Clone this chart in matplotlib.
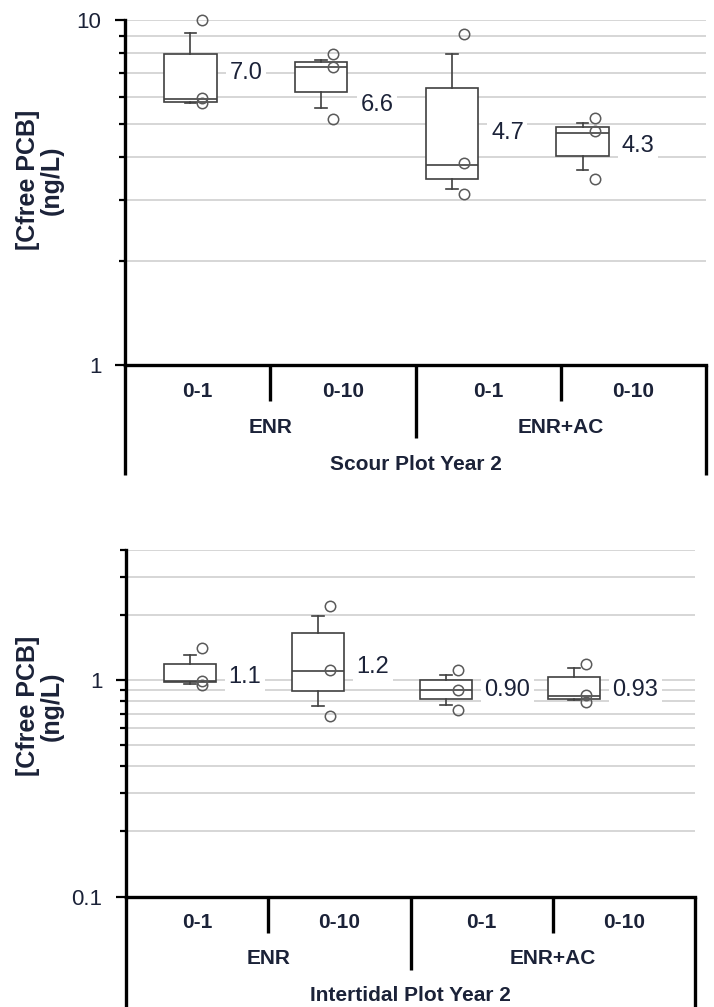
import numpy as np
import matplotlib.pyplot as plt
from matplotlib.ticker import FixedLocator, NullFormatter, FixedFormatter

plt.rcParams['font.family'] = ['Liberation Sans', 'DejaVu Sans']

depths = ["0-1", "0-10", "0-1", "0-10"]
treatments = ["ENR", "ENR+AC"]
ylabel = "[Cfree PCB]\n(ng/L)"

# Scour plot, year 2
scour_title = "Scour Plot Year 2"
scour_whislo = [5.76, 5.57, 3.24, 3.67]
scour_q1 = [5.80, 6.18, 3.46, 4.04]
scour_med = [5.90, 7.32, 3.81, 4.72]
scour_q3 = [7.95, 7.56, 6.36, 4.91]
scour_whishi = [9.19, 7.66, 7.95, 5.02]
scour_points = [[10.0, 5.95, 5.74], [7.96, 7.32, 5.17],
                [9.09, 3.84, 3.14], [5.19, 4.77, 3.45]]
scour_mean = [7.0, 6.6, 4.7, 4.3]
scour_labels = ["7.0", "6.6", "4.7", "4.3"]

# Intertidal plot, year 2
tidal_title = "Intertidal Plot Year 2"
tidal_whislo = [0.965, 0.758, 0.772, 0.808]
tidal_q1 = [0.979, 0.889, 0.82, 0.82]
tidal_med = [0.989, 1.10, 0.906, 0.85]
tidal_q3 = [1.195, 1.65, 1.0, 1.037]
tidal_whishi = [1.315, 1.98, 1.06, 1.14]
tidal_points = [[1.41, 0.99, 0.948], [2.20, 1.11, 0.681],
                [1.11, 0.906, 0.732], [1.195, 0.859, 0.791]]
tidal_mean = [1.1, 1.2, 0.90, 0.93]
tidal_labels = ["1.1", "1.2", "0.90", "0.93"]

box_pos = np.array([0.45, 1.35, 2.25, 3.15])
txt_col = '#1b2238'
box_col = '#404040'


def draw_panel(ax, whislo, q1, med, q3, whishi, points, means, labels,
               title, ylim, majors, minors, label_shift):
    stats = []
    for i in range(len(med)):
        stats.append(dict(whislo=whislo[i], q1=q1[i], med=med[i],
                          q3=q3[i], whishi=whishi[i], fliers=[]))
    lp = dict(color=box_col, lw=1.2)
    ax.bxp(stats, positions=box_pos, widths=0.36, showfliers=False,
           patch_artist=True, capwidths=0.08,
           boxprops=dict(facecolor='white', edgecolor=box_col, lw=1.2),
           medianprops=lp, whiskerprops=lp, capprops=lp, manage_ticks=False)
    for i, pts in enumerate(points):
        ax.plot([box_pos[i] + 0.083] * len(pts), pts, 'o', mfc='none',
                mec='#5a5a5a', ms=7.5, mew=1.1, zorder=4, clip_on=False)
    for i, lab in enumerate(labels):
        ax.annotate(lab, xy=(box_pos[i] + 0.27, means[i]),
                    xytext=(0, label_shift[i]), textcoords='offset points',
                    ha='left', va='center', fontsize=17, color=txt_col,
                    bbox=dict(fc='white', ec='none', pad=2.5), zorder=5)

    ax.set_yscale('log')
    ax.set_ylim(*ylim)
    ax.set_xlim(0, 4)
    ax.yaxis.set_major_locator(FixedLocator(majors))
    ax.yaxis.set_major_formatter(FixedFormatter([f"{m:g}" for m in majors]))
    ax.yaxis.set_minor_locator(FixedLocator(minors))
    ax.yaxis.set_minor_formatter(NullFormatter())
    ax.set_xticks([])
    ax.grid(which='both', axis='y', color='#d6d6d6', lw=1.4)
    ax.set_axisbelow(True)
    ax.tick_params(axis='y', which='major', length=7, width=1.6,
                   labelsize=16, labelcolor=txt_col, pad=10)
    ax.tick_params(axis='y', which='minor', length=4, width=1.6)
    for s in ['top', 'right']:
        ax.spines[s].set_visible(False)
    for s in ['left', 'bottom']:
        ax.spines[s].set_linewidth(2.4)

    # category lines and labels below the axis
    fig = ax.figure
    h_px = ax.get_position().height * fig.get_figheight() * fig.dpi
    tr = ax.get_xaxis_transform()
    drops = {0: 110, 1: 36, 2: 73, 3: 36, 4: 110}
    for x, d in drops.items():
        ax.plot([x, x], [0, -d / h_px], color='black', lw=2.4,
                transform=tr, clip_on=False, solid_capstyle='butt')
    for i, lab in enumerate(depths):
        ax.text(i + 0.5, -26 / h_px, lab, transform=tr, ha='center',
                va='center', fontsize=15, fontweight='bold', color=txt_col)
    for i, lab in enumerate(treatments):
        ax.text(2 * i + 1, -62 / h_px, lab, transform=tr, ha='center',
                va='center', fontsize=15, fontweight='bold', color=txt_col)
    ax.text(2, -99 / h_px, title, transform=tr, ha='center', va='center',
            fontsize=15, fontweight='bold', color=txt_col)


fig = plt.figure(figsize=(7.14, 10.07), dpi=100)
ax1 = fig.add_axes([0.1751, 0.6375, 0.8137, 0.3426])
ax2 = fig.add_axes([0.1765, 0.1097, 0.7969, 0.3441])

draw_panel(ax1, scour_whislo, scour_q1, scour_med, scour_q3, scour_whishi,
           scour_points, scour_mean, scour_labels, scour_title,
           (1, 10), [1, 10], [2, 3, 4, 5, 6, 7, 8, 9], [0, -16, 0, 0])
draw_panel(ax2, tidal_whislo, tidal_q1, tidal_med, tidal_q3, tidal_whishi,
           tidal_points, tidal_mean, tidal_labels, tidal_title,
           (0.1, 4), [0.1, 1], [0.2, 0.3, 0.4, 0.5, 0.6, 0.7, 0.8, 0.9, 2, 3, 4],
           [-4, -3, 0, -2])

fig.text(0.056, 0.821, ylabel, rotation=90, ha='center', va='center',
         fontsize=18, fontweight='bold', color=txt_col, multialignment='center',
         linespacing=1.0)
fig.text(0.056, 0.299, ylabel, rotation=90, ha='center', va='center',
         fontsize=18, fontweight='bold', color=txt_col, multialignment='center',
         linespacing=1.0)

plt.savefig("out.png", dpi=100)
